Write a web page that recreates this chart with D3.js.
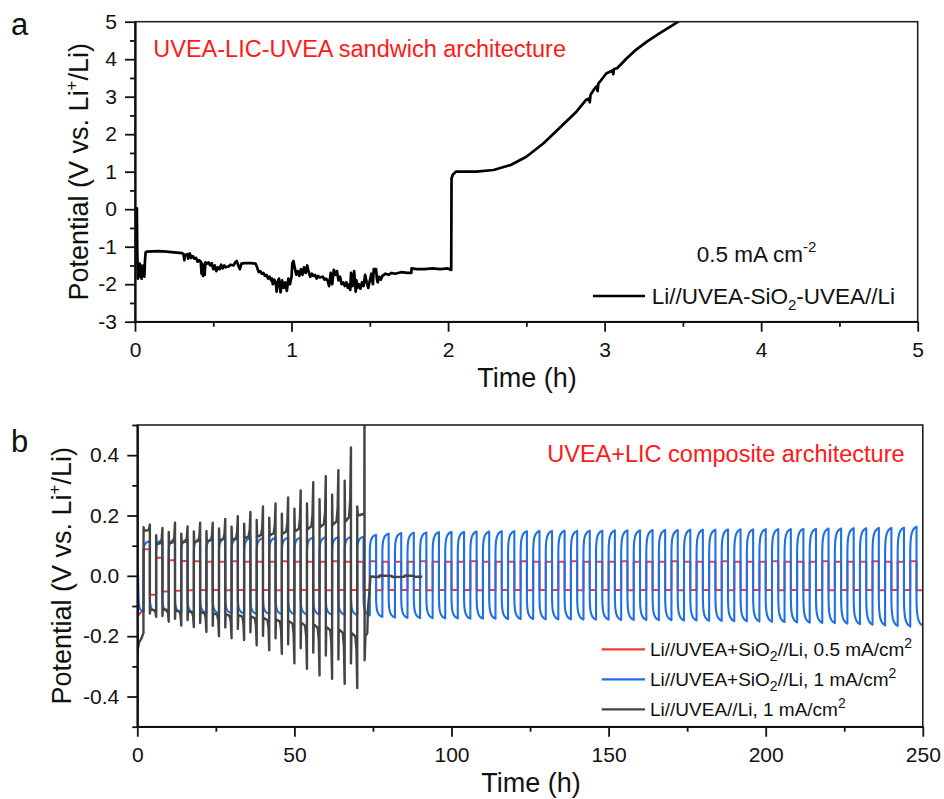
<!DOCTYPE html>
<html>
<head>
<meta charset="utf-8">
<script src="https://cdn.jsdelivr.net/npm/d3@7"></script>
<style>
  html, body { margin: 0; padding: 0; background: #fff; }
  svg { display: block; font-family: "Liberation Sans", Arial, sans-serif; }
</style>
</head>
<body>
<svg id="fig" width="944" height="799"></svg>
<script>
// ---------- Panel a: Li//UVEA-SiO2-UVEA//Li, 0.5 mA cm-2 ----------
const sandwichTrace = [
  [0,0.02],[0.012,0.02],[0.014,-1.0],[0.018,-1.85],[0.022,-1.6],[0.026,-1.8],[0.03,-1.45],[0.034,-1.75],
  [0.038,-1.5],[0.042,-1.85],[0.046,-1.55],[0.05,-1.7],[0.055,-1.5],[0.06,-1.8],[0.064,-1.35],[0.068,-1.15],
  [0.075,-1.13],[0.15,-1.12],[0.2,-1.13],[0.25,-1.15],[0.3,-1.17],[0.31,-1.2],[0.315,-1.36],[0.32,-1.22],
  [0.335,-1.2],[0.34,-1.32],[0.35,-1.18],[0.36,-1.3],[0.37,-1.25],[0.38,-1.32],[0.39,-1.3],[0.4,-1.4],
  [0.41,-1.36],[0.42,-1.4],[0.425,-1.72],[0.43,-1.45],[0.435,-1.78],[0.44,-1.5],[0.445,-1.75],[0.45,-1.42],
  [0.46,-1.45],[0.47,-1.42],[0.48,-1.5],[0.49,-1.44],[0.5,-1.6],[0.51,-1.5],[0.52,-1.65],[0.53,-1.55],
  [0.54,-1.6],[0.55,-1.48],[0.56,-1.58],[0.57,-1.5],[0.58,-1.55],[0.6,-1.52],[0.61,-1.48],[0.63,-1.5],
  [0.64,-1.42],[0.65,-1.38],[0.66,-1.5],[0.67,-1.6],[0.68,-1.45],[0.7,-1.44],[0.74,-1.44],[0.77,-1.45],
  [0.78,-1.55],[0.79,-1.68],[0.8,-1.65],[0.81,-1.72],[0.82,-1.7],[0.83,-1.78],[0.84,-1.75],[0.85,-1.85],
  [0.86,-1.8],[0.87,-1.9],[0.875,-1.85],[0.88,-2.0],[0.89,-1.88],[0.9,-2.0],[0.905,-2.2],[0.91,-1.95],
  [0.92,-1.85],[0.925,-2.05],[0.93,-2.22],[0.94,-1.9],[0.95,-2.1],[0.96,-1.95],[0.97,-2.18],[0.98,-1.85],
  [0.99,-2.0],[1.0,-1.8],[1.005,-1.45],[1.012,-1.38],[1.02,-1.55],[1.03,-1.75],[1.04,-1.65],[1.05,-1.78],
  [1.06,-1.6],[1.07,-1.75],[1.08,-1.55],[1.09,-1.7],[1.1,-1.5],[1.11,-1.68],[1.12,-1.8],[1.13,-1.72],
  [1.14,-1.78],[1.15,-1.75],[1.16,-1.85],[1.17,-1.78],[1.18,-1.82],[1.2,-1.8],[1.21,-1.88],[1.22,-1.85],
  [1.23,-1.9],[1.24,-2.05],[1.25,-1.7],[1.26,-2.0],[1.27,-1.62],[1.28,-1.75],[1.29,-1.65],[1.3,-1.9],
  [1.31,-1.8],[1.32,-2.0],[1.33,-1.95],[1.34,-2.05],[1.35,-1.95],[1.36,-2.1],[1.37,-2.0],[1.375,-2.15],
  [1.38,-1.7],[1.39,-2.05],[1.4,-1.65],[1.41,-2.2],[1.415,-1.9],[1.42,-2.1],[1.43,-2.0],[1.44,-2.12],
  [1.45,-1.95],[1.46,-2.05],[1.47,-1.75],[1.48,-1.95],[1.49,-2.1],[1.5,-1.9],[1.51,-1.72],[1.52,-2.0],
  [1.525,-1.6],[1.54,-1.6],[1.545,-1.85],[1.55,-1.95],[1.56,-1.8],[1.57,-1.88],[1.58,-1.78],[1.59,-1.75],
  [1.6,-1.72],[1.62,-1.75],[1.64,-1.7],[1.66,-1.72],[1.68,-1.7],[1.7,-1.68],[1.74,-1.7],[1.765,-1.7],
  [1.767,-1.58],[1.8,-1.6],[1.85,-1.6],[1.9,-1.58],[1.95,-1.6],[2.0,-1.58],[2.02,-1.62],[2.022,0.82],
  [2.03,0.92],[2.05,1.0],[2.075,1.0],[2.18,1.0],[2.29,1.045],[2.4,1.18],[2.5,1.4],[2.61,1.76],
  [2.71,2.16],[2.82,2.6],[2.88,2.91],[2.9,2.95],[2.905,2.85],[2.91,3.05],[2.93,3.18],[2.95,3.28],
  [2.955,3.15],[2.96,3.35],[2.97,3.4],[3.01,3.62],[3.05,3.7],[3.055,3.6],[3.06,3.74],[3.08,3.76],
  [3.14,4.02],[3.2,4.25],[3.27,4.47],[3.35,4.69],[3.42,4.87],[3.47,5.0],[3.5,5.08]
];
const aXTicks = [0, 1, 2, 3, 4, 5];
const aXMinor = [0.5, 1.5, 2.5, 3.5, 4.5];
const aYTicks = [-3, -2, -1, 0, 1, 2, 3, 4, 5];
const aYMinor = [-2.5, -1.5, -0.5, 0.5, 1.5, 2.5, 3.5, 4.5];

// ---------- Panel b: galvanostatic cycling, 2 h per half cycle ----------
// Half-cycle k: positive from 2+4k to 4+4k h, negative from 4+4k to 6+4k h.
const bXTicks = [0, 50, 100, 150, 200, 250];
const bXMinor = [25, 75, 125, 175, 225];
const bYTicks = [-0.4, -0.2, 0.0, 0.2, 0.4];
const bYMinor = [-0.5, -0.3, -0.1, 0.1, 0.3, 0.5];

// Li//UVEA+SiO2//Li, 0.5 mA/cm2
const redLead = [[0,-0.09],[0.4,-0.13],[1.2,-0.12],[2,-0.11]];
const redHi = [
  0.088,0.060,0.052,0.049,0.048,0.047,0.047,0.048,0.047,0.047,
  0.047,0.048,0.047,0.047,0.047,0.048,0.047,0.047,0.048,0.047,
  0.047,0.047,0.048,0.047,0.047,0.047,0.048,0.047,0.047,0.047,
  0.048,0.047,0.047,0.047,0.048,0.047,0.047,0.047,0.048,0.047,
  0.047,0.047,0.048,0.047,0.047,0.047,0.048,0.047,0.047,0.047,
  0.048,0.047,0.047,0.047,0.048,0.047,0.047,0.047,0.048,0.047,
  0.047,0.048];
const redLo = [
  -0.063,-0.052,-0.049,-0.048,-0.047,-0.047,-0.048,-0.047,-0.047,-0.047,
  -0.048,-0.047,-0.047,-0.047,-0.048,-0.047,-0.047,-0.047,-0.048,-0.047,
  -0.047,-0.047,-0.048,-0.047,-0.047,-0.047,-0.048,-0.047,-0.047,-0.047,
  -0.048,-0.047,-0.047,-0.047,-0.048,-0.047,-0.047,-0.047,-0.048,-0.047,
  -0.047,-0.047,-0.048,-0.047,-0.047,-0.047,-0.048,-0.047,-0.047,-0.047,
  -0.048,-0.047,-0.047,-0.047,-0.048,-0.047,-0.047,-0.047,-0.048,-0.047,
  -0.047,-0.048];

// Li//UVEA+SiO2//Li, 1 mA/cm2
const blueLead = [[0,0.035],[0.25,0.0],[0.45,-0.09],[0.8,-0.11],[2,-0.12]];
const blueOnsetHi = 0.08;
const blueOnsetLo = -0.075;
const blueShape = [[0,0],[0.03,0.3],[0.1,0.55],[0.22,0.72],[0.4,0.85],[0.65,0.94],[1,1]];
const bluePeak = [
  0.115,0.118,0.120,0.121,0.122,0.122,0.124,0.124,0.125,0.125,
  0.126,0.126,0.127,0.127,0.128,0.128,0.129,0.130,
  0.136,0.140,0.142,0.143,0.144,0.145,0.146,0.146,0.147,0.147,
  0.148,0.148,0.148,0.149,0.149,0.150,0.149,0.150,0.150,0.151,
  0.151,0.151,0.152,0.152,0.152,0.153,0.153,0.153,0.154,0.154,
  0.154,0.155,0.155,0.155,0.156,0.156,0.157,0.157,0.158,0.158,
  0.159,0.159,0.160,0.163];
const blueTrough = [
  -0.118,-0.120,-0.121,-0.122,-0.123,-0.124,-0.124,-0.125,-0.126,-0.126,
  -0.127,-0.127,-0.128,-0.128,-0.129,-0.129,-0.130,-0.131,
  -0.136,-0.138,-0.139,-0.140,-0.140,-0.141,-0.141,-0.142,-0.142,-0.142,
  -0.143,-0.143,-0.143,-0.144,-0.144,-0.144,-0.145,-0.145,-0.145,-0.146,
  -0.146,-0.146,-0.147,-0.147,-0.148,-0.148,-0.149,-0.149,-0.150,-0.150,
  -0.151,-0.152,-0.153,-0.154,-0.155,-0.156,-0.157,-0.158,-0.160,-0.162,
  -0.164,-0.166,-0.168,-0.165];

// Li//UVEA//Li, 1 mA/cm2 (fails after ~72 h)
const grayLead = [[0,-0.27],[0.2,-0.24],[0.6,-0.22],[1.2,-0.21],[1.95,-0.19]];
const grayShape = [[0,0.55],[0.06,0.05],[0.15,0],[0.7,0.06],[0.88,0.3],[1,1]];
const grayHi = [0.15,0.105,0.108,0.11,0.112,0.115,0.118,0.12,0.125,0.13,0.135,0.14,0.148,0.155,0.162,0.17,0.18,0.2];
const grayLo = [-0.112,-0.11,-0.115,-0.118,-0.12,-0.124,-0.128,-0.13,-0.135,-0.14,-0.145,-0.15,-0.156,-0.162,-0.17,-0.178,-0.19];
const grayPeak = [0.17,0.159,0.176,0.164,0.176,0.176,0.189,0.198,0.212,0.23,0.24,0.26,0.283,0.31,0.33,0.35,0.426];
const grayTrough = [-0.136,-0.152,-0.165,-0.17,-0.186,-0.2,-0.207,-0.213,-0.23,-0.247,-0.258,-0.29,-0.308,-0.33,-0.341,-0.358,-0.372];
const grayTail = [
  [72.0,0.205],[72.25,0.21],[72.3,0.62],[72.35,-0.28],[72.6,-0.2],[73.2,-0.19],[73.4,-0.11],[73.9,-0.05],
  [74.2,-0.002],[77,-0.004],[77.1,0.001],[81,0.0],[81.1,-0.004],[85,-0.003],[85.1,0.001],[88,0.0],
  [88.1,-0.003],[90.7,-0.003]];

// ---------- build the plotted series ----------
function half(t0, t1, from, to, shape) {
  return shape.map(([f, w]) => [t0 + f * (t1 - t0), from + w * (to - from)]);
}

const redSeries = redLead.slice();
redHi.forEach((v, k) => {
  const t0 = 2 + 4 * k;
  redSeries.push([t0, v], [t0 + 2, v], [t0 + 2, redLo[k]], [t0 + 4, redLo[k]]);
});

const blueSeries = blueLead.slice();
bluePeak.forEach((p, k) => {
  const t0 = 2 + 4 * k;
  blueSeries.push(...half(t0, t0 + 2, blueOnsetHi, p, blueShape));
  blueSeries.push(...half(t0 + 2, t0 + 4, blueOnsetLo, blueTrough[k], blueShape));
});

const graySeries = grayLead.slice();
grayPeak.forEach((p, k) => {
  const t0 = 2 + 4 * k;
  graySeries.push(...half(t0, t0 + 2, grayHi[k], p, grayShape));
  graySeries.push(...half(t0 + 2, t0 + 4, grayLo[k], grayTrough[k], grayShape));
});
graySeries.push([70, grayHi[17] + 0.03], [70.2, grayHi[17]]);
graySeries.push(...grayTail);

// ---------- drawing ----------
const svg = d3.select("#fig");
const font = '"Liberation Sans", Arial, sans-serif';

function drawAxes(g, x, y, xt, xm, yt, ym, yfmt) {
  const box = { l: x.range()[0], r: x.range()[1], t: y.range()[1], b: y.range()[0] };
  const style = sel => {
    sel.selectAll("path.domain").attr("stroke", "#111").attr("stroke-width", 1.8);
    sel.selectAll(".tick line").attr("stroke", "#111").attr("stroke-width", 1.8);
    sel.selectAll(".tick text").attr("font-family", font).attr("font-size", 21).attr("fill", "#111");
  };
  g.append("rect").attr("x", box.l).attr("y", box.t).attr("width", box.r - box.l).attr("height", box.b - box.t)
    .attr("fill", "none").attr("stroke", "#222").attr("stroke-width", 1.6);
  g.append("g").attr("transform", `translate(0,${box.b})`)
    .call(d3.axisBottom(x).tickValues(xm).tickSize(5).tickSizeOuter(0).tickFormat("")).call(style);
  g.append("g").attr("transform", `translate(0,${box.b})`)
    .call(d3.axisBottom(x).tickValues(xt).tickSize(10).tickSizeOuter(0).tickPadding(10).tickFormat(d => String(d))).call(style);
  g.append("g").attr("transform", `translate(${box.l},0)`)
    .call(d3.axisLeft(y).tickValues(ym).tickSize(5).tickSizeOuter(0).tickFormat("")).call(style);
  g.append("g").attr("transform", `translate(${box.l},0)`)
    .call(d3.axisLeft(y).tickValues(yt).tickSize(10).tickSizeOuter(0).tickPadding(8).tickFormat(yfmt)).call(style);
}

function yTitle(g, x, yc) {
  const t = g.append("text").attr("transform", `translate(${x},${yc}) rotate(-90)`)
    .attr("text-anchor", "middle").attr("font-family", font).attr("font-size", 27).attr("fill", "#111");
  t.append("tspan").text("Potential (V vs. Li");
  t.append("tspan").attr("font-size", 17).attr("dy", -11).text("+");
  t.append("tspan").attr("dy", 11).text("/Li)");
}

function xTitle(g, x, y) {
  g.append("text").attr("x", x).attr("y", y).attr("text-anchor", "middle")
    .attr("font-family", font).attr("font-size", 27).attr("fill", "#111").text("Time (h)");
}

// ----- panel a -----
{
  const x = d3.scaleLinear().domain([0, 5]).range([135, 917.7]);
  const y = d3.scaleLinear().domain([-3, 5]).range([321.7, 21.7]);
  const g = svg.append("g");
  svg.append("defs").append("clipPath").attr("id", "clipA")
    .append("rect").attr("x", 135).attr("y", 21.7).attr("width", 917.7 - 135).attr("height", 300);
  g.append("path").datum(sandwichTrace).attr("clip-path", "url(#clipA)")
    .attr("fill", "none").attr("stroke", "#000").attr("stroke-width", 2.7).attr("stroke-linejoin", "round")
    .attr("d", d3.line().x(d => x(d[0])).y(d => y(d[1])));
  drawAxes(g, x, y, aXTicks, aXMinor, aYTicks, aYMinor, d => String(d));
  yTitle(g, 87.5, 171.7);
  xTitle(g, 527, 386.7);

  g.append("text").attr("x", 153.3).attr("y", 57.3).attr("font-family", font).attr("font-size", 23.5)
    .attr("fill", "#ff1a1a").text("UVEA-LIC-UVEA sandwich architecture");

  const c = g.append("text").attr("x", 696.7).attr("y", 262.3).attr("font-family", font)
    .attr("font-size", 22.5).attr("fill", "#111");
  c.append("tspan").text("0.5 mA cm");
  c.append("tspan").attr("font-size", 15).attr("dy", -10).text("-2");

  g.append("line").attr("x1", 593).attr("x2", 645).attr("y1", 296).attr("y2", 296)
    .attr("stroke", "#000").attr("stroke-width", 2.7);
  const l = g.append("text").attr("x", 651.7).attr("y", 304).attr("font-family", font)
    .attr("font-size", 22.5).attr("fill", "#111");
  l.append("tspan").text("Li//UVEA-SiO");
  l.append("tspan").attr("font-size", 15).attr("dy", 6).text("2");
  l.append("tspan").attr("dy", -6).text("-UVEA//Li");

  svg.append("text").attr("x", 11).attr("y", 35).attr("font-family", font).attr("font-size", 31)
    .attr("fill", "#111").text("a");
}

// ----- panel b -----
{
  const x = d3.scaleLinear().domain([0, 250]).range([137.3, 922.8]);
  const y = d3.scaleLinear().domain([-0.5, 0.5]).range([726.7, 425]);
  const g = svg.append("g");
  svg.append("defs").append("clipPath").attr("id", "clipB")
    .append("rect").attr("x", 137.3).attr("y", 425).attr("width", 922.8 - 137.3).attr("height", 726.7 - 425);
  const line = d3.line().x(d => x(d[0])).y(d => y(d[1]));
  const series = [
    { data: redSeries, color: "#f03a3a", w: 2.0 },
    { data: blueSeries, color: "#1f6fe5", w: 2.1 },
    { data: graySeries, color: "#444444", w: 2.4 }
  ];
  series.forEach(s => {
    g.append("path").datum(s.data).attr("clip-path", "url(#clipB)")
      .attr("fill", "none").attr("stroke", s.color).attr("stroke-width", s.w)
      .attr("stroke-linejoin", "round").attr("d", line);
  });
  drawAxes(g, x, y, bXTicks, bXMinor, bYTicks, bYMinor, d => d.toFixed(1));
  yTitle(g, 70.5, 575.8);
  xTitle(g, 531, 791.7);

  g.append("text").attr("x", 547.3).attr("y", 461.7).attr("font-family", font).attr("font-size", 23.5)
    .attr("fill", "#ff1a1a").text("UVEA+LIC composite architecture");

  const legend = [
    { color: "#f03a3a", y: 649.3, parts: [["Li//UVEA+SiO", 0], ["2", 1], ["//Li, 0.5 mA/cm", 0], ["2", 2]] },
    { color: "#1f6fe5", y: 679.3, parts: [["Li//UVEA+SiO", 0], ["2", 1], ["//Li, 1 mA/cm", 0], ["2", 2]] },
    { color: "#444444", y: 709.3, parts: [["Li//UVEA//Li, 1 mA/cm", 0], ["2", 2]] }
  ];
  legend.forEach(it => {
    g.append("line").attr("x1", 601.7).attr("x2", 645).attr("y1", it.y).attr("y2", it.y)
      .attr("stroke", it.color).attr("stroke-width", 2.2);
    const t = g.append("text").attr("x", 650).attr("y", it.y + 6.5).attr("font-family", font)
      .attr("font-size", 19).attr("fill", "#111");
    let shift = 0;
    it.parts.forEach(([s, kind]) => {
      const target = kind === 1 ? 5 : kind === 2 ? -8 : 0;
      const ts = t.append("tspan").attr("dy", target - shift).text(s);
      if (kind) ts.attr("font-size", 14);
      shift = target;
    });
  });

  svg.append("text").attr("x", 11).attr("y", 451.7).attr("font-family", font).attr("font-size", 31)
    .attr("fill", "#111").text("b");
}
</script>
</body>
</html>
